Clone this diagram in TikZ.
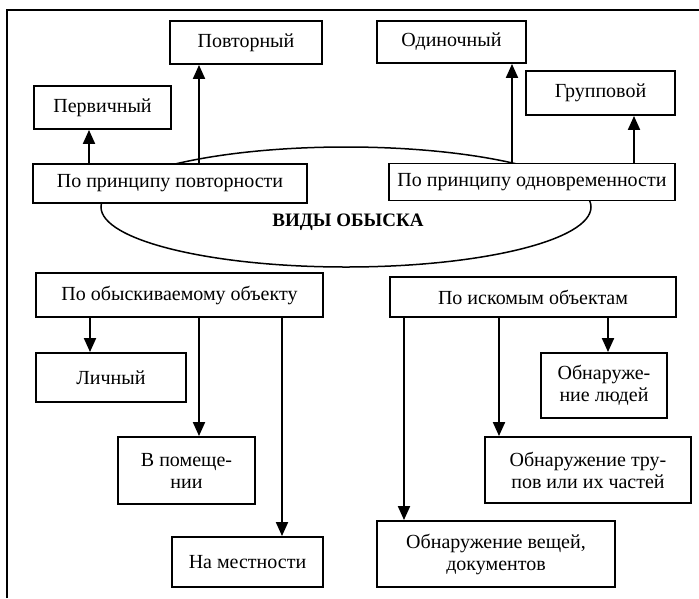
\documentclass[tikz,border=0pt]{standalone}
\usepackage{fontspec}
\setmainfont{Liberation Serif}
\usetikzlibrary{arrows.meta,shapes.geometric}
\begin{document}
\begin{tikzpicture}[x=1pt,y=-1pt,
  box/.style={draw,line width=1.9pt,fill=white,inner sep=1pt,align=center,
    font=\fontsize{20}{22}\selectfont},
  arr/.style={line width=2pt,-{Triangle[width=12pt,length=14pt]}},
  frame/.style={line width=2.5pt}]
\useasboundingbox (0,0) rectangle (699,598);
% frame
\draw[frame] (7,598) -- (7,10) -- (699,10);
% ellipse
\node[draw,ellipse,line width=1.5pt,minimum width=490pt,minimum height=120pt,inner sep=0pt] (ell) at (346,207) {};
\node[font=\fontsize{19}{21}\selectfont\bfseries] (title) at (348,222) {ВИДЫ ОБЫСКА};
% top boxes
\node[box,minimum width=152pt,minimum height=43pt] (povt) at (246,42.5) {Повторный};
\node[box,minimum width=137pt,minimum height=43pt] (perv) at (102.5,107.5) {Первичный};
\node[box,minimum width=274pt,minimum height=39pt] (pp) at (170,183.5) {По принципу повторности};
\node[box,minimum width=149pt,minimum height=42pt] (odin) at (451.5,42) {Одиночный};
\node[box,minimum width=149pt,minimum height=44pt] (grup) at (600.5,93) {Групповой};
\node[box,minimum width=286pt,minimum height=37pt] (po) at (532,182) {По принципу одновременности};
% bottom boxes
\node[box,minimum width=287pt,minimum height=44pt] (obj) at (179.5,295) {По обыскиваемому объекту};
\node[box,minimum width=150pt,minimum height=49pt] (lich) at (111,377.5) {Личный};
\node[box,minimum width=137pt,minimum height=67pt] (pom) at (186.5,470.5) {В помеще-\\нии};
\node[box,minimum width=151pt,minimum height=50pt] (mest) at (247.5,562) {На местности};
\node[box,minimum width=286pt,minimum height=40pt] (isk) at (533,297) {По искомым объектам};
\node[box,minimum width=126pt,minimum height=65pt] (lyud) at (604,385.5) {Обнаруже-\\ние людей};
\node[box,minimum width=206pt,minimum height=66pt] (trup) at (588,470) {Обнаружение тру-\\пов или их частей};
\node[box,minimum width=238pt,minimum height=66pt] (vesh) at (496,554) {Обнаружение вещей,\\документов};
% arrow x positions
\coordinate (a1) at (89,0);
\coordinate (a2) at (199,0);
\coordinate (a3) at (512,0);
\coordinate (a4) at (634,0);
\coordinate (b1) at (90,0);
\coordinate (b2) at (199,0);
\coordinate (b3) at (282,0);
\coordinate (c1) at (404,0);
\coordinate (c2) at (499,0);
\coordinate (c3) at (608,0);
% arrows
\draw[arr] (pp.north -| a1) -- (perv.south -| a1);
\draw[arr] (pp.north -| a2) -- (povt.south -| a2);
\draw[arr] (po.north -| a3) -- (odin.south -| a3);
\draw[arr] (po.north -| a4) -- (grup.south -| a4);
\draw[arr] (obj.south -| b1) -- (lich.north -| b1);
\draw[arr] (obj.south -| b2) -- (pom.north -| b2);
\draw[arr] (obj.south -| b3) -- (mest.north -| b3);
\draw[arr] (isk.south -| c1) -- (vesh.north -| c1);
\draw[arr] (isk.south -| c2) -- (trup.north -| c2);
\draw[arr] (isk.south -| c3) -- (lyud.north -| c3);
\end{tikzpicture}
\end{document}
